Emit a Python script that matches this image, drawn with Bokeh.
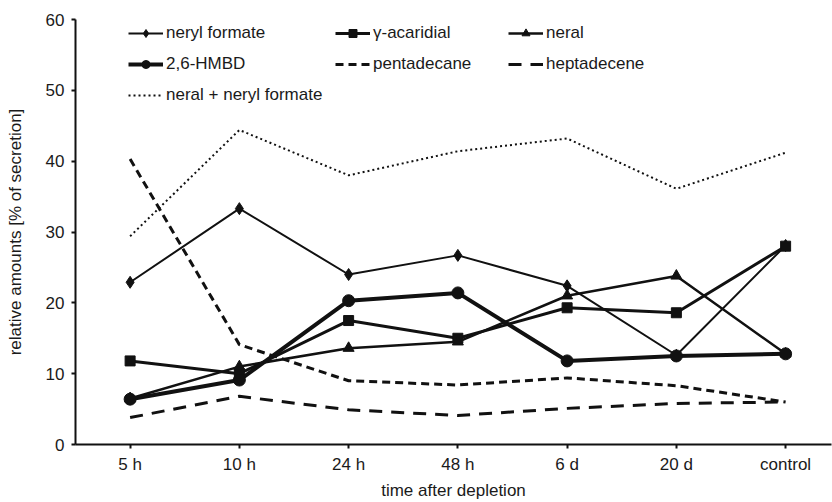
from bokeh.plotting import figure
from bokeh.models import Range1d, FixedTicker, Legend, LegendItem
from bokeh.embed import file_html
from bokeh.resources import INLINE

categories = ["5 h", "10 h", "24 h", "48 h", "6 d", "20 d", "control"]
neryl_formate = [22.9, 33.3, 24.0, 26.7, 22.4, 12.6, 28.1]
acaridial = [11.8, 10.0, 17.5, 15.0, 19.3, 18.6, 28.0]
neral = [6.5, 11.0, 13.6, 14.5, 21.0, 23.8, 12.8]
hmbd = [6.4, 9.1, 20.3, 21.4, 11.8, 12.5, 12.8]
pentadecane = [40.3, 14.1, 9.0, 8.4, 9.4, 8.3, 6.0]
heptadecene = [3.8, 6.8, 4.9, 4.1, 5.1, 5.8, 6.0]
neral_plus_neryl = [29.4, 44.4, 38.0, 41.4, 43.2, 36.1, 41.2]
y_ticks = [0, 10, 20, 30, 40, 50, 60]

FONT = "Liberation Sans"
INK = "#111111"
x = list(range(len(categories)))

p = figure(width=832, height=502, output_backend="svg", toolbar_location=None,
           x_range=Range1d(-0.5, 6.42), y_range=Range1d(0, 60),
           min_border_left=75, min_border_right=1, min_border_top=19, min_border_bottom=55)
p.outline_line_color = None
p.xgrid.visible = False
p.ygrid.visible = False
p.background_fill_color = "white"
p.border_fill_color = "white"

for ax in (p.xaxis[0], p.yaxis[0]):
    ax.axis_line_width = 2
    ax.axis_line_color = INK
    ax.major_tick_line_width = 2
    ax.major_tick_line_color = INK
    ax.major_tick_out = 4
    ax.major_tick_in = 0
    ax.minor_tick_out = 0
    ax.minor_tick_in = 0
    ax.major_label_text_font = FONT
    ax.major_label_text_font_size = "17px"
    ax.major_label_text_color = "#1a1a1a"
    ax.axis_label_text_font = FONT
    ax.axis_label_text_font_size = "17px"
    ax.axis_label_text_font_style = "normal"
    ax.axis_label_text_color = "#1a1a1a"

p.xaxis.ticker = FixedTicker(ticks=x)
p.xaxis.major_label_overrides = {i: c for i, c in enumerate(categories)}
p.xaxis.axis_label = "time after depletion"
p.xaxis.major_label_standoff = 6
p.xaxis.axis_label_standoff = 4

p.yaxis.ticker = FixedTicker(ticks=y_ticks)
p.yaxis.bounds = (0, 60)
p.yaxis.axis_label = "relative amounts [% of secretion]"
p.yaxis.major_label_standoff = 7
p.yaxis.axis_label_standoff = 18

r_nf_l = p.line(x, neryl_formate, line_color=INK, line_width=2)
r_nf_m = p.scatter(x, neryl_formate, marker="diamond", size=12, fill_color=INK, line_color=INK)
r_ac_l = p.line(x, acaridial, line_color=INK, line_width=3)
r_ac_m = p.scatter(x, acaridial, marker="square", size=10, fill_color=INK, line_color=INK)
r_ne_l = p.line(x, neral, line_color=INK, line_width=2.5)
r_ne_m = p.scatter(x, neral, marker="triangle", size=11, fill_color=INK, line_color=INK)
r_hm_l = p.line(x, hmbd, line_color=INK, line_width=4)
r_hm_m = p.scatter(x, hmbd, marker="circle", size=12, fill_color=INK, line_color=INK)
r_pe = p.line(x, pentadecane, line_color=INK, line_width=3, line_dash="8 5")
r_he = p.line(x, heptadecene, line_color=INK, line_width=3, line_dash="13 9")
r_nn = p.line(x, neral_plus_neryl, line_color=INK, line_width=2, line_dash="2 3")


def make_legend(items, loc):
    lg = Legend(items=items, location=loc, orientation="vertical",
                padding=0, margin=0, spacing=11,
                glyph_width=35, glyph_height=20, label_height=20, label_standoff=3,
                label_text_font=FONT, label_text_font_size="17px", label_text_color="#1a1a1a",
                border_line_color=None, background_fill_alpha=0)
    p.add_layout(lg, "center")


make_legend([LegendItem(label="neryl formate", renderers=[r_nf_l, r_nf_m]),
             LegendItem(label="2,6-HMBD", renderers=[r_hm_l, r_hm_m]),
             LegendItem(label="neral + neryl formate", renderers=[r_nn])], (53, 339))
make_legend([LegendItem(label="γ-acaridial", renderers=[r_ac_l, r_ac_m]),
             LegendItem(label="pentadecane", renderers=[r_pe])], (260, 370))
make_legend([LegendItem(label="neral", renderers=[r_ne_l, r_ne_m]),
             LegendItem(label="heptadecene", renderers=[r_he])], (433, 370))

open("out.html", "w").write(file_html(p, INLINE))
